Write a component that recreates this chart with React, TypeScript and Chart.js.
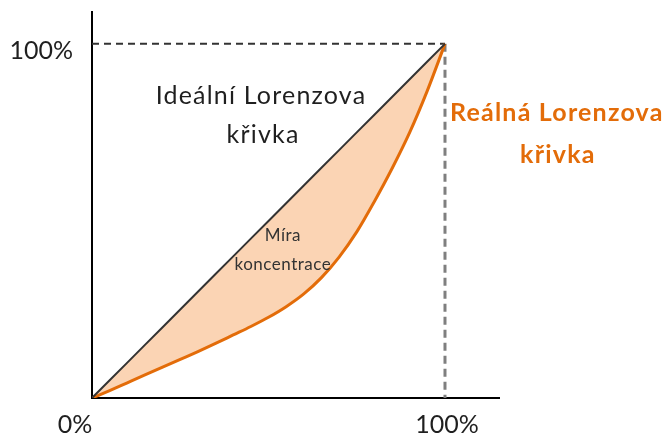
import React, { useEffect, useRef } from "react";
import { Chart, registerables } from "chart.js";

Chart.register(...registerables);

// Cumulative share of population (x, %) and of income (y, %)
const shareX = [0, 5, 10, 15, 20, 25, 30, 35, 40, 45, 50, 55, 60, 65, 70, 75, 80, 85, 90, 95, 100];
const realY = [0, 2.1, 4.3, 6.5, 8.7, 10.9, 13.1, 15.4, 17.8, 20.2, 22.8, 25.8, 29.4, 34, 39.8, 46.9, 55.5, 64.8, 75, 86.8, 100];
const idealY = [0, 5, 10, 15, 20, 25, 30, 35, 40, 45, 50, 55, 60, 65, 70, 75, 80, 85, 90, 95, 100];
const tickLabels = ["0%", "100%"];
const idealLabel = ["Ideální Lorenzova", "křivka"];
const realLabel = ["Reálná Lorenzova", "křivka"];
const areaLabel = ["Míra", "koncentrace"];

const FONT = "Lato, 'Noto Sans', sans-serif";

const labelsPlugin = {
  id: "lorenzLabels",
  afterDraw(chart: any) {
    const { ctx, scales } = chart;
    const xs = scales.x;
    const ys = scales.y;
    const px = (v: number) => xs.getPixelForValue(v);
    const py = (v: number) => ys.getPixelForValue(v);
    const text = (s: string, x: number, y: number, spacing: number) => {
      (ctx as any).letterSpacing = `${spacing}px`;
      ctx.fillText(s, x + spacing / 2, y);
    };
    ctx.save();
    ctx.textBaseline = "middle";

    // axis tick labels
    ctx.font = `25px ${FONT}`;
    ctx.fillStyle = "#1f1f1f";
    ctx.textAlign = "right";
    text(tickLabels[1], px(0) - 19, py(100) + 7, 0);
    ctx.textAlign = "center";
    text(tickLabels[0], px(0) - 17, py(0) + 27, 0);
    text(tickLabels[1], px(100) + 2, py(0) + 27, 0);

    // ideal curve label
    ctx.font = `25px ${FONT}`;
    ctx.fillStyle = "#1f1f1f";
    text(idealLabel[0], px(47.7), py(85.3), 1.2);
    text(idealLabel[1], px(48.3), py(74.3), 1.2);

    // real curve label
    ctx.font = `bold 25px ${FONT}`;
    ctx.fillStyle = "#E36C09";
    text(realLabel[0], px(131.5), py(80.5), 1.2);
    text(realLabel[1], px(131.8), py(68.6), 1.2);

    // area label
    ctx.font = `17px ${FONT}`;
    ctx.fillStyle = "#333333";
    text(areaLabel[0], px(54), py(45.8), 0.5);
    text(areaLabel[1], px(54), py(37.8), 0.5);
    ctx.restore();
  },
};

export default function App() {
  const ref = useRef<HTMLCanvasElement | null>(null);

  useEffect(() => {
    document.body.style.margin = "0";
    if (!ref.current) return;
    const chart = new Chart(ref.current, {
      type: "line",
      data: {
        datasets: [
          {
            label: "ideal",
            data: shareX.map((x, i) => ({ x, y: idealY[i] })),
            borderColor: "#333333",
            borderWidth: 2,
            pointRadius: 0,
            fill: false,
            order: 0,
          },
          {
            label: "real",
            data: shareX.map((x, i) => ({ x, y: realY[i] })),
            borderColor: "#E36C09",
            backgroundColor: "#FBD4B4",
            borderWidth: 3,
            pointRadius: 0,
            cubicInterpolationMode: "monotone",
            fill: 0,
            order: 1,
          },
          {
            label: "guideH",
            data: [
              { x: 0, y: 100 },
              { x: 100, y: 100 },
            ],
            borderColor: "#333333",
            borderWidth: 2,
            borderDash: [7, 5],
            pointRadius: 0,
            fill: false,
            order: 3,
          },
          {
            label: "guideV",
            data: [
              { x: 100, y: 100 },
              { x: 100, y: 0 },
            ],
            borderColor: "#7f7f7f",
            borderWidth: 3,
            borderDash: [8, 5],
            pointRadius: 0,
            fill: false,
            order: 3,
          },
        ],
      },
      options: {
        animation: false,
        responsive: false,
        devicePixelRatio: 1,
        layout: { padding: { left: 92, right: 168, top: 12, bottom: 38 } },
        plugins: {
          legend: { display: false },
          tooltip: { enabled: false },
        },
        scales: {
          x: {
            type: "linear",
            min: 0,
            max: 115.3,
            grid: { display: false, drawTicks: false },
            ticks: { display: false },
            border: { display: true, color: "#000000", width: 2 },
          },
          y: {
            type: "linear",
            min: 0,
            max: 109,
            grid: { display: false, drawTicks: false },
            ticks: { display: false },
            border: { display: true, color: "#000000", width: 2 },
          },
        },
      },
      plugins: [labelsPlugin],
    });
    return () => chart.destroy();
  }, []);

  return (
    <div style={{ position: "absolute", left: 0, top: 0, width: 667, height: 436, background: "#ffffff" }}>
      <canvas ref={ref} width={667} height={436} />
    </div>
  );
}
